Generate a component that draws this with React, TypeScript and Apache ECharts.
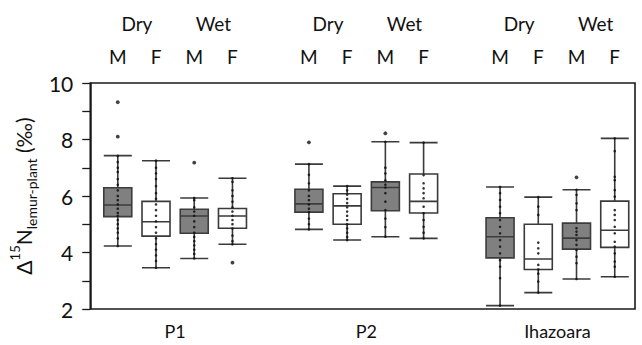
import React, { useEffect, useRef } from "react";
import * as echarts from "echarts";

const sites = ["P1", "P2", "Ihazoara"];
const seasons = ["Dry", "Wet"];
const sexes = ["M", "F"];

// [lower whisker, Q1, median, Q3, upper whisker] for Dry M, Dry F, Wet M, Wet F
const boxP1 = [
  [4.23, 5.27, 5.68, 6.29, 7.43],
  [3.46, 4.58, 5.09, 5.81, 7.25],
  [3.79, 4.68, 5.29, 5.53, 5.93],
  [4.29, 4.86, 5.29, 5.56, 6.63],
];
const boxP2 = [
  [4.82, 5.43, 5.72, 6.24, 7.13],
  [4.44, 5.0, 5.65, 6.08, 6.35],
  [4.56, 5.48, 6.3, 6.5, 7.92],
  [4.5, 5.4, 5.81, 6.78, 7.89],
];
const boxIhazoara = [
  [2.12, 3.81, 4.56, 5.23, 6.32],
  [2.58, 3.4, 3.77, 5.0, 5.96],
  [3.06, 4.12, 4.51, 5.04, 6.22],
  [3.14, 4.18, 4.79, 5.82, 8.04],
];

const outliersP1 = [[9.32, 8.1], [], [7.18], [3.64]];
const outliersP2 = [[7.9], [], [8.22], []];
const outliersIhazoara = [[], [], [6.66], []];

const pointsP1 = [
  [7.42, 7.2, 7.0, 6.85, 6.6, 6.4, 6.2, 6.0, 5.85, 5.7, 5.55, 5.4, 5.3, 5.15, 5.0, 4.85, 4.7, 4.5, 4.23],
  [7.25, 7.0, 6.8, 6.6, 6.35, 6.1, 5.9, 5.7, 5.5, 5.3, 5.1, 4.9, 4.7, 4.5, 4.3, 4.1, 3.9, 3.7, 3.46],
  [5.93, 5.85, 5.6, 5.45, 5.3, 5.1, 4.9, 4.7, 4.55, 4.4, 4.25, 4.1, 3.95, 3.79],
  [6.63, 6.5, 6.2, 6.0, 5.8, 5.6, 5.45, 5.3, 5.15, 5.0, 4.85, 4.6, 4.4, 4.29],
];
const pointsP2 = [
  [7.13, 6.75, 6.45, 6.2, 6.0, 5.85, 5.7, 5.55, 5.43, 5.2, 5.0, 4.82],
  [6.35, 6.2, 6.05, 5.9, 5.75, 5.6, 5.45, 5.3, 5.15, 5.0, 4.85, 4.7, 4.55, 4.44],
  [7.92, 7.0, 6.8, 6.55, 6.4, 6.3, 6.1, 5.8, 5.5, 5.2, 4.9, 4.56],
  [7.89, 6.74, 6.45, 6.27, 6.1, 5.92, 5.62, 5.39, 5.15, 4.91, 4.7, 4.5],
];
const pointsIhazoara = [
  [6.32, 6.1, 5.86, 5.62, 5.39, 5.15, 4.91, 4.68, 4.44, 4.21, 3.97, 3.73, 3.5, 3.09, 2.12],
  [5.96, 5.62, 5.33, 4.35, 4.15, 3.97, 3.56, 3.4, 3.25, 2.97, 2.58],
  [6.22, 6.04, 5.74, 5.5, 4.86, 4.74, 4.62, 4.44, 4.27, 4.09, 3.85, 3.62, 3.06],
  [8.04, 7.59, 6.68, 6.56, 6.21, 5.98, 5.5, 5.33, 5.15, 4.91, 4.68, 4.38, 4.21, 3.97, 3.68, 3.5, 3.14],
];

const boxes = [boxP1, boxP2, boxIhazoara];
const outliers = [outliersP1, outliersP2, outliersIhazoara];
const points = [pointsP1, pointsP2, pointsIhazoara];

const FONT = "Lato";
const slot = (g: number, s: number) => g * 5 + s;
const X_MIN = -0.72;
const X_MAX = 13.53;

export default function App() {
  const ref = useRef<HTMLDivElement>(null);
  useEffect(() => {
    document.body.style.margin = "0";
    const chart = echarts.init(ref.current!, undefined, { renderer: "svg" });

    const boxData: any[] = [];
    const dotData: number[][] = [];
    const outData: number[][] = [];
    boxes.forEach((grp, g) =>
      grp.forEach((b, s) => {
        const isMale = s % 2 === 0;
        boxData.push({
          value: [slot(g, s), ...b],
          itemStyle: {
            color: isMale ? "#808080" : "#ffffff",
            borderColor: isMale ? "#3c3c3c" : "#3a3a3a",
            borderWidth: 1.6,
          },
        });
        points[g][s].forEach((v) => dotData.push([slot(g, s), v]));
        outliers[g][s].forEach((v) => outData.push([slot(g, s), v]));
      })
    );

    const boxCenters: number[] = [];
    const pairCenters: number[] = [];
    const siteCenters: number[] = [];
    sites.forEach((_, g) => {
      for (let s = 0; s < 4; s++) boxCenters.push(slot(g, s));
      pairCenters.push(slot(g, 0.5), slot(g, 2.5));
      siteCenters.push(slot(g, 1.5));
    });

    const labelBase = { fontFamily: FONT, color: "#111", fontSize: 19 };
    const hiddenX = {
      type: "value",
      min: X_MIN,
      max: X_MAX,
      axisLine: { show: false },
      axisTick: { show: false },
      splitLine: { show: false },
    };

    chart.setOption({
      animation: false,
      textStyle: { fontFamily: FONT },
      grid: {
        left: 85,
        right: 7,
        top: 83,
        bottom: 36,
        show: true,
        borderColor: "#1a1a1a",
        borderWidth: 1.6,
      },
      xAxis: [
        {
          ...hiddenX,
          position: "bottom",
          axisLabel: {
            ...labelBase,
            fontSize: 18,
            margin: 13,
            customValues: siteCenters,
            formatter: (v: number) => sites[Math.round((v - 1.5) / 5)] ?? "",
          },
        },
        {
          ...hiddenX,
          position: "top",
          axisLabel: {
            ...labelBase,
            margin: 17,
            customValues: boxCenters,
            formatter: (v: number) => sexes[Math.round(v) % 5 % 2],
          },
        },
        {
          ...hiddenX,
          position: "top",
          axisLabel: {
            ...labelBase,
            margin: 50,
            customValues: pairCenters,
            formatter: (v: number) => seasons[Math.floor((v % 5) / 2)],
          },
        },
      ],
      yAxis: {
        type: "value",
        min: 2,
        max: 10,
        interval: 2,
        axisLine: { show: true, onZero: false, lineStyle: { color: "#1a1a1a", width: 1.5 } },
        axisTick: { show: true, length: 8, lineStyle: { color: "#1a1a1a", width: 1.3 } },
        minorTick: { show: true, splitNumber: 2, length: 8, lineStyle: { color: "#1a1a1a", width: 1.3 } },
        splitLine: { show: false },
        axisLabel: { ...labelBase, fontSize: 21, margin: 17 },
        name: "{a|Δ}{sup|15}{a|N}{sub|lemur-plant}{a| (‰)}",
        nameLocation: "middle",
        nameRotate: 90,
        nameGap: 45,
        nameTextStyle: {
          rich: {
            a: { fontFamily: FONT, fontSize: 21, color: "#111", lineHeight: 30, verticalAlign: "middle" },
            sup: { fontFamily: FONT, fontSize: 13, color: "#111", lineHeight: 30, verticalAlign: "top" },
            sub: { fontFamily: FONT, fontSize: 14, color: "#111", lineHeight: 30, verticalAlign: "bottom" },
          },
        },
      },
      series: [
        {
          type: "boxplot",
          xAxisIndex: 0,
          boxWidth: [28, 28],
          data: boxData,
          z: 2,
        },
        {
          type: "scatter",
          xAxisIndex: 0,
          data: dotData,
          symbolSize: 2.6,
          itemStyle: { color: "#111", opacity: 0.85 },
          z: 3,
        },
        {
          type: "scatter",
          xAxisIndex: 0,
          data: outData,
          symbolSize: 3.8,
          itemStyle: { color: "#111" },
          z: 3,
        },
      ],
    });
    return () => chart.dispose();
  }, []);
  return (
    <div
      ref={ref}
      style={{ position: "absolute", left: 0, top: 0, width: 642, height: 345 }}
    />
  );
}
